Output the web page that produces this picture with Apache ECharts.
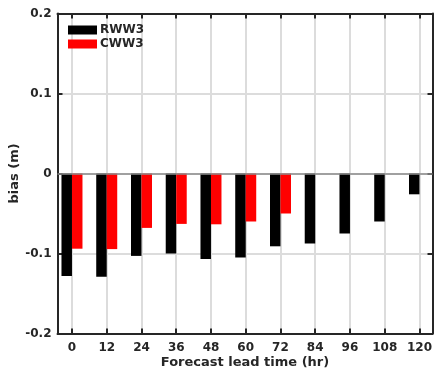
<!DOCTYPE html>
<html>
<head>
<meta charset="utf-8">
<script src="https://cdn.jsdelivr.net/npm/echarts@6/dist/echarts.min.js"></script>
<style>html,body{margin:0;padding:0;background:#fff}#c{width:434px;height:373px}</style>
</head>
<body>
<div id="c"></div>
<script>
const leadTimes = [0, 12, 24, 36, 48, 60, 72, 84, 96, 108, 120];
const rww3 = [-0.128, -0.129, -0.103, -0.100, -0.107, -0.105, -0.091, -0.0875, -0.075, -0.060, -0.026];
const cww3 = [-0.094, -0.0945, -0.068, -0.063, -0.0635, -0.060, -0.050, null, null, null, null];
const seriesNames = ['RWW3', 'CWW3'];
const seriesColors = ['#000000', '#ff0000'];

const axisColor = '#262626';
const gridColor = '#dcdcdc';
const font = 'DejaVu Sans';
const BAR_W = 10.5;

const chart = echarts.init(document.getElementById('c'));

function barRenderer(side) {
  return function (params, api) {
    const v = api.value(1);
    if (v === null || v === undefined || isNaN(v)) return;
    const p = api.coord([api.value(0), v]);
    const z = api.coord([api.value(0), 0]);
    const x = side === 0 ? p[0] - BAR_W : p[0];
    return {
      type: 'rect',
      shape: { x: x, y: Math.min(p[1], z[1]), width: BAR_W, height: Math.abs(p[1] - z[1]) },
      style: { fill: api.visual('color') }
    };
  };
}

const xBase = {
  type: 'value', min: -5, max: 124.5,
  axisLine: { show: true, onZero: false, lineStyle: { color: axisColor, width: 2 } },
  axisTick: { show: true, inside: true, length: 5, customValues: leadTimes, lineStyle: { color: axisColor, width: 2 } }
};
const yBase = {
  type: 'value', min: -0.2, max: 0.2, interval: 0.1,
  axisLine: { show: true, onZero: false, lineStyle: { color: axisColor, width: 2 } },
  axisTick: { show: true, inside: true, length: 5, lineStyle: { color: axisColor, width: 2 } }
};
chart.setOption({
  animation: false,
  grid: { left: 57.5, right: 1.5, top: 13.5, bottom: 39.5, containLabel: false, outerBoundsMode: 'none' },
  legend: {
    data: seriesNames, orient: 'vertical', left: 63, top: 19,
    itemWidth: 29, itemHeight: 9, itemGap: 2, icon: 'rect',
    textStyle: { fontFamily: font, fontWeight: 'bold', fontSize: 12, color: axisColor, padding: [0, 0, 0, -2] }
  },
  xAxis: [
    Object.assign({}, xBase, {
      position: 'bottom',
      name: 'Forecast lead time (hr)', nameLocation: 'middle', nameGap: 23, nameMoveOverlap: false,
      nameTextStyle: { fontFamily: font, fontWeight: 'bold', fontSize: 13, color: axisColor },
      axisLabel: { customValues: leadTimes, margin: 8, fontFamily: font, fontWeight: 'bold', fontSize: 12, color: axisColor },
      splitLine: { show: true, lineStyle: { color: gridColor, width: 2 } }
    }),
    Object.assign({}, xBase, { position: 'top', axisLabel: { show: false }, splitLine: { show: false } })
  ],
  yAxis: [
    Object.assign({}, yBase, {
      position: 'left',
      name: 'bias (m)', nameLocation: 'middle', nameGap: 36.5, nameMoveOverlap: false,
      nameTextStyle: { fontFamily: font, fontWeight: 'bold', fontSize: 13, color: axisColor },
      axisLabel: { margin: 6, fontFamily: font, fontWeight: 'bold', fontSize: 12, color: axisColor,
        formatter: v => (Math.abs(v) < 1e-9 ? '0' : String(Math.round(v * 10) / 10)) },
      splitLine: { show: true, lineStyle: { color: gridColor, width: 2 } }
    }),
    Object.assign({}, yBase, { position: 'right', axisLabel: { show: false }, splitLine: { show: false } })
  ],
  series: [
    {
      name: seriesNames[0], type: 'custom', xAxisIndex: 0, yAxisIndex: 0,
      renderItem: barRenderer(0),
      itemStyle: { color: seriesColors[0] },
      encode: { x: 0, y: 1 },
      data: leadTimes.map((t, i) => [t, rww3[i]]),
      markLine: {
        silent: true, symbol: 'none', label: { show: false },
        data: [{ yAxis: 0 }],
        lineStyle: { color: '#8c8c8c', width: 1.5, type: 'solid' }
      },
      z: 3
    },
    {
      name: seriesNames[1], type: 'custom', xAxisIndex: 0, yAxisIndex: 0,
      renderItem: barRenderer(1),
      itemStyle: { color: seriesColors[1] },
      encode: { x: 0, y: 1 },
      data: leadTimes.map((t, i) => [t, cww3[i]]),
      z: 3
    }
  ]
});
</script>
</body>
</html>
